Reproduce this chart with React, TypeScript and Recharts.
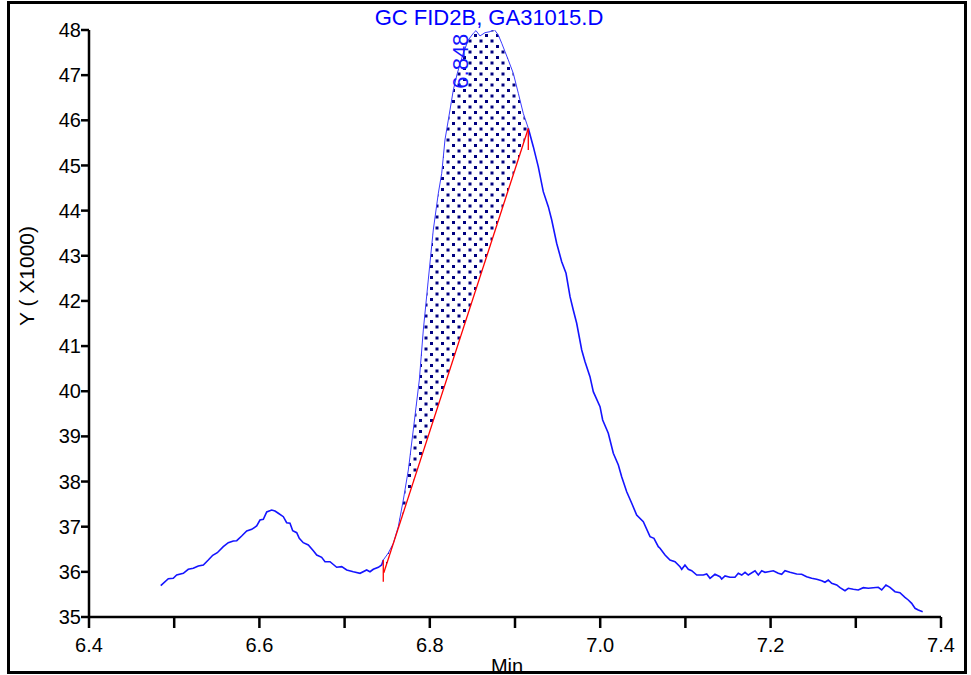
import React from 'react';
import { ComposedChart, Line, Area, XAxis, YAxis, ReferenceLine, ReferenceDot } from 'recharts';

// Retention time (min)
const times = [
  6.4842, 6.4931, 6.4989, 6.5029, 6.5107, 6.5165, 6.5224, 6.5283, 6.5342, 6.54,
  6.5452, 6.5506, 6.5576, 6.5635, 6.5694, 6.5734, 6.5792, 6.5851, 6.591, 6.5968,
  6.6007, 6.6046, 6.6086, 6.6144, 6.6183, 6.6222, 6.6281, 6.632, 6.6359, 6.6391,
  6.6438, 6.6468, 6.6515, 6.6574, 6.6633, 6.6673, 6.6731, 6.677, 6.6829, 6.6907,
  6.6966, 6.7025, 6.7102, 6.7181, 6.7259, 6.7298, 6.7337, 6.7396, 6.7435, 6.7454,
  6.7513, 6.7572, 6.763, 6.7689, 6.7748, 6.7806, 6.7877, 6.7924, 6.7982, 6.8041,
  6.81, 6.814, 6.8178, 6.8237, 6.8276, 6.8323, 6.8393, 6.8452, 6.8511, 6.8542,
  6.8589, 6.8648, 6.8707, 6.8754, 6.8804, 6.8844, 6.8883, 6.8921, 6.898, 6.9039,
  6.9097, 6.9156, 6.9215, 6.9273, 6.9332, 6.9391, 6.9431, 6.9489, 6.9548, 6.9599,
  6.9646, 6.9684, 6.9724, 6.9783, 6.9822, 6.988, 6.9919, 6.9998, 7.0029, 7.0095,
  7.0154, 7.0213, 7.0252, 7.0311, 7.037, 7.0428, 7.0506, 7.0585, 7.0631, 7.0682,
  7.0702, 7.0761, 7.0819, 7.0878, 7.0937, 7.0957, 7.0995, 7.1034, 7.1074, 7.1133,
  7.121, 7.125, 7.1289, 7.1347, 7.1406, 7.1426, 7.1465, 7.1523, 7.1582, 7.1621,
  7.1661, 7.17, 7.1738, 7.1817, 7.1856, 7.1896, 7.1934, 7.1973, 7.2032, 7.209,
  7.213, 7.2169, 7.2228, 7.2306, 7.2365, 7.2423, 7.2482, 7.2541, 7.26, 7.2638,
  7.2677, 7.2717, 7.2776, 7.2815, 7.2873, 7.2912, 7.2971, 7.3029, 7.3088, 7.3147,
  7.3205, 7.3264, 7.3304, 7.3354, 7.3401, 7.346, 7.3518, 7.3577, 7.3616, 7.3656,
  7.3695, 7.3733, 7.3785,
];

// Detector signal (x1000)
const signal = [
  35.693, 35.848, 35.857, 35.93, 35.968, 36.056, 36.079, 36.13, 36.152, 36.262,
  36.367, 36.424, 36.557, 36.646, 36.683, 36.69, 36.794, 36.905, 36.942, 37.016,
  37.148, 37.164, 37.326, 37.37, 37.348, 37.297, 37.221, 37.089, 37.075, 36.911,
  36.867, 36.743, 36.646, 36.595, 36.468, 36.373, 36.322, 36.225, 36.225, 36.101,
  36.114, 36.041, 36.003, 35.968, 36.041, 36.003, 36.056, 36.101, 36.152, 36.262,
  36.417, 36.632, 37.0, 37.591, 38.256, 39.142, 40.249, 41.357, 42.464, 43.571,
  44.384, 44.827, 45.565, 46.23, 46.672, 47.042, 47.485, 47.78, 47.928, 47.986,
  47.868, 47.941, 47.963, 48.016, 47.89, 47.707, 47.52, 47.337, 47.042, 46.599,
  46.156, 45.824, 45.416, 44.973, 44.42, 44.088, 43.793, 43.277, 42.869, 42.612,
  42.094, 41.8, 41.505, 40.914, 40.655, 40.322, 39.99, 39.658, 39.363, 39.069,
  38.626, 38.367, 38.107, 37.775, 37.518, 37.259, 37.111, 36.779, 36.743, 36.557,
  36.522, 36.373, 36.262, 36.225, 36.114, 36.056, 36.152, 36.056, 36.025, 35.93,
  35.93, 35.952, 35.857, 35.946, 35.893, 35.842, 35.908, 35.879, 35.879, 35.968,
  35.93, 35.99, 35.93, 36.025, 35.93, 36.025, 35.99, 36.003, 36.025, 35.968,
  35.946, 36.025, 35.99, 35.952, 35.946, 35.893, 35.857, 35.835, 35.804, 35.769,
  35.819, 35.746, 35.709, 35.649, 35.583, 35.636, 35.614, 35.598, 35.649, 35.636,
  35.649, 35.658, 35.598, 35.709, 35.658, 35.56, 35.538, 35.436, 35.377, 35.303,
  35.193, 35.155, 35.117,
];

// Integrated peak window and its baseline
const peakStart = 6.7454;
const peakEnd = 6.9156;
const baselineTimes = [6.746, 6.9156];
const baselineValues = [35.98, 45.82];
const startTick = [36.26, 35.78];
const endTick = [45.82, 45.34];
const peakLabel = '6.848';
const peakLabelPos = [6.8354, 47.31];

const xTicks = [6.4, 6.5, 6.6, 6.7, 6.8, 6.9, 7.0, 7.1, 7.2, 7.3, 7.4];
const xTickLabels = ['6.4', '', '6.6', '', '6.8', '', '7.0', '', '7.2', '', '7.4'];
const yTicks = [35, 36, 37, 38, 39, 40, 41, 42, 43, 44, 45, 46, 47, 48];
const yTickLabels = ['35', '36', '37', '38', '39', '40', '41', '42', '43', '44', '45', '46', '47', '48'];

const title = 'GC FID2B, GA31015.D';
const xTitle = 'Min';
const yTitle = 'Y ( X1000)';

const baseAt = (t: number) => {
  const [t0, t1] = baselineTimes;
  const [v0, v1] = baselineValues;
  return v0 + ((t - t0) * (v1 - v0)) / (t1 - t0);
};

const rows = times.map((t, i) => {
  const v = signal[i];
  const inside = t >= peakStart && t <= peakEnd;
  return {
    t,
    outer: t <= peakStart || t >= peakEnd ? v : null,
    inner: inside ? v : null,
    band: inside ? [Math.min(baseAt(t), v), v] : null,
  };
});

const baselineRows = baselineTimes.map((t, i) => ({ t, base: baselineValues[i] }));

const FONT = '"Liberation Sans", Arial, sans-serif';
const BLUE = '#1414ff';

export default function App() {
  return (
    <div style={{ position: 'absolute', left: 0, top: 0, width: 971, height: 675, background: '#fff', fontFamily: FONT }}>
      <ComposedChart
        width={971}
        height={675}
        data={rows}
        margin={{ top: 30, right: 30, bottom: 18, left: 0 }}
      >
        <defs>
          <pattern id="dots" width="11" height="11" patternUnits="userSpaceOnUse">
            <rect x="1" y="1" width="3" height="3" fill="#000080" />
            <rect x="6.5" y="6.5" width="3" height="3" fill="#000080" />
          </pattern>
        </defs>
        <XAxis
          type="number"
          dataKey="t"
          domain={[6.4, 7.4]}
          ticks={xTicks}
          tickFormatter={(v: number) => xTickLabels[xTicks.findIndex((x) => Math.abs(x - v) < 1e-6)] ?? ''}
          interval={0}
          height={40}
          tickSize={11}
          tickMargin={10}
          axisLine={{ stroke: '#000', strokeWidth: 2.5 }}
          tickLine={{ stroke: '#000', strokeWidth: 2.5 }}
          tick={{ fill: '#000', fontSize: 20, fontFamily: FONT }}
          allowDataOverflow
        />
        <YAxis
          type="number"
          domain={[35, 48]}
          ticks={yTicks}
          tickFormatter={(v: number) => yTickLabels[yTicks.indexOf(v)] ?? ''}
          interval={0}
          width={89}
          tickSize={8}
          tickMargin={0}
          axisLine={{ stroke: '#000', strokeWidth: 2.5 }}
          tickLine={{ stroke: '#000', strokeWidth: 2.5 }}
          tick={{ fill: '#000', fontSize: 20, fontFamily: FONT }}
          allowDataOverflow
        />
        <Area
          dataKey="band"
          type="linear"
          stroke="none"
          fill="url(#dots)"
          fillOpacity={1}
          isAnimationActive={false}
          connectNulls={false}
          dot={false}
          activeDot={false}
        />
        <Line
          dataKey="outer"
          type="linear"
          stroke={BLUE}
          strokeWidth={1.6}
          dot={false}
          activeDot={false}
          connectNulls={false}
          isAnimationActive={false}
        />
        <Line
          dataKey="inner"
          type="linear"
          stroke="#3a3aff"
          strokeWidth={1}
          dot={false}
          activeDot={false}
          connectNulls={false}
          isAnimationActive={false}
        />
        <Line
          data={baselineRows}
          dataKey="base"
          type="linear"
          stroke="#ff0000"
          strokeWidth={1.3}
          dot={false}
          activeDot={false}
          isAnimationActive={false}
        />
        <ReferenceLine
          segment={[{ x: peakStart, y: startTick[0] }, { x: peakStart, y: startTick[1] }]}
          stroke="#ff0000"
          strokeWidth={1.3}
        />
        <ReferenceLine
          segment={[{ x: peakEnd, y: endTick[0] }, { x: peakEnd, y: endTick[1] }]}
          stroke="#ff0000"
          strokeWidth={1.3}
        />
        <ReferenceDot
          x={peakLabelPos[0]}
          y={peakLabelPos[1]}
          r={0}
          fill="none"
          stroke="none"
          label={{ value: peakLabel, position: 'center', angle: -90, fill: BLUE, fontSize: 22, fontFamily: FONT }}
        />
      </ComposedChart>
      <svg
        width={971}
        height={675}
        style={{ position: 'absolute', left: 0, top: 0, pointerEvents: 'none' }}
      >
        <text x={489} y={25} textAnchor="middle" fill="#0000ff" fontSize={22} fontFamily={FONT}>
          {title}
        </text>
        <text
          x={0}
          y={0}
          transform="translate(34 276) rotate(-90)"
          textAnchor="middle"
          fill="#000"
          fontSize={21}
          fontFamily={FONT}
        >
          {yTitle}
        </text>
        <text x={507} y={673} textAnchor="middle" fill="#000" fontSize={20} fontFamily={FONT}>
          {xTitle}
        </text>
        <rect x={8.5} y={2.5} width={957} height={670} fill="none" stroke="#000" strokeWidth={3} />
      </svg>
    </div>
  );
}
